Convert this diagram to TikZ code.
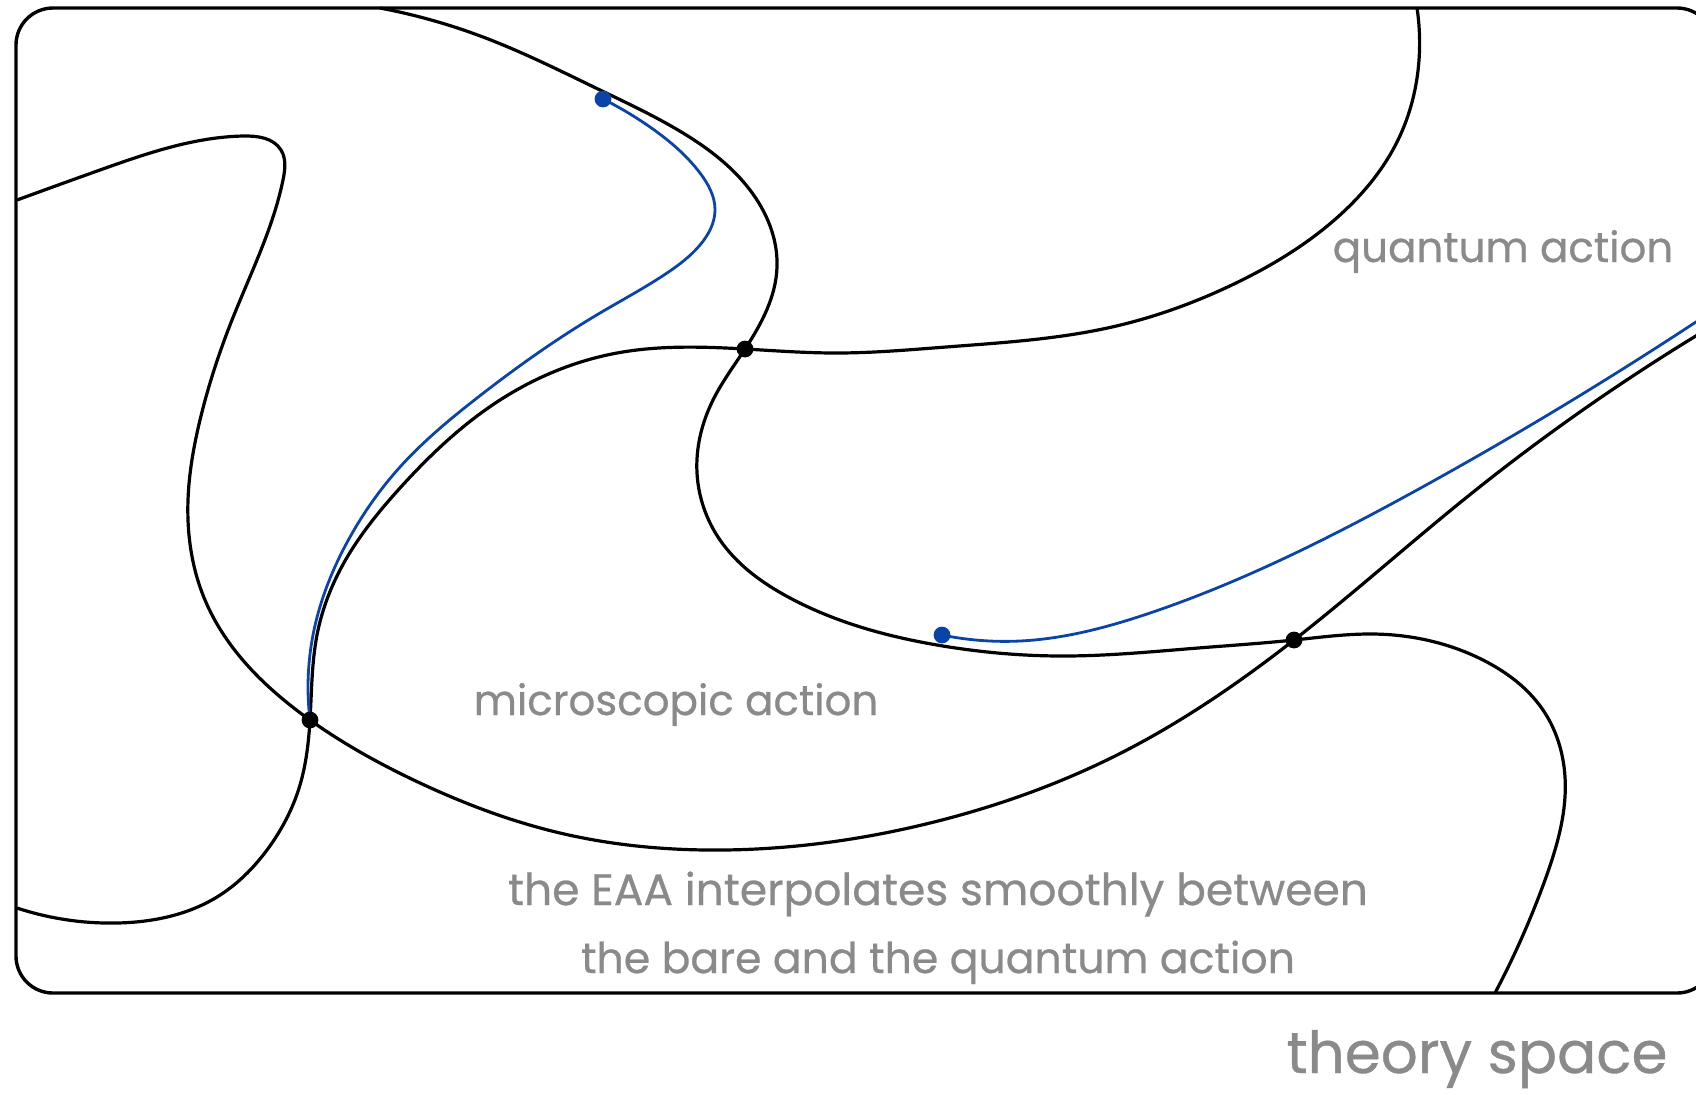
\documentclass[tikz,border=0pt]{standalone}
\usepackage{fontspec}
\setmainfont{Poppins}[FakeBold=0.6]
\usetikzlibrary{hobby}
\definecolor{flowblue}{HTML}{0A44A8}
\definecolor{labelgray}{HTML}{8A8A8A}

\begin{document}
\begin{tikzpicture}[x=0.5pt,y=-0.5pt,
    curve/.style={line width=1.6pt,line join=round},
    flow/.style={line width=1.4pt,flowblue},
    lbl/.style={text=labelgray,anchor=base,inner sep=0pt,font=\fontsize{21}{34}\selectfont}]
  \useasboundingbox (0,0) rectangle (1696,1094);
  \draw[line width=1.7pt,rounded corners=18.5pt] (16,8) rectangle (1714,993);
  \coordinate (d1) at (310,720); \coordinate (d2) at (745,349); \coordinate (d3) at (1294,640);
  \coordinate (b1) at (603,99);  \coordinate (b2) at (942,635);
  % black trajectories
  \draw[curve] plot[hobby] coordinates {(17,200) (100,170) (243,136) (281,150) (283,180) (232,320)
    (200,420) (188,500) (205,600) (d1) (420,783) (560,833) (723,850) (930,823) (1121,753) (d3) (1467,497) (1714,325)};
  \draw[curve] plot[hobby] coordinates {(380,8) (483,37) (600,90) (683,133) (750,190) (777,267) (d2)
    (713,400) (697,473) (720,540) (790,598) (937,645) (1064,656) (1198,648) (d3)
    (1373,634) (1483,660) (1543,710) (1565,777) (1545,880) (1495,993)};
  \draw[curve] plot[hobby] coordinates {(1417,8) (1419,60) (1398,140) (1340,215) (1236,283) (1112,327)
    (946,347) (834,353) (d2) (617,353) (500,400) (400,488) (340,570) (317,635) (d1)
    (300,785) (267,850) (217,897) (117,923) (17,908)};
  % blue flows
  \draw[flow] plot[hobby] coordinates {(b1) (650,127) (700,173) (715,210) (700,245) (667,273) (600,313) (477,398)
    (400,467) (350,537) (313,635) (d1)};
  \draw[flow] plot[hobby] coordinates {(b2) (1020,641) (1150,613) (1417,490) (1714,310)};
  \foreach \p in {d1,d2,d3} \fill (\p) circle[radius=4.2pt];
  \foreach \p in {b1,b2} \fill[flowblue] (\p) circle[radius=4.2pt];
  % labels
  \node[lbl] (qa) at (1503,262) {quantum action};
  \node[lbl] (ma) at (676,715) {microscopic action};
  \node[lbl,font=\fontsize{22}{34}\selectfont] (eaa1) at (938,905) {the EAA interpolates smoothly between};
  \node[lbl,font=\fontsize{21.3}{34}\selectfont] (eaa2) at (938,973) {the bare and the quantum action};
  \node[lbl,font=\fontsize{29}{34}\selectfont] (ts) at (1477,1073) {theory space};
\end{tikzpicture}
\end{document}
